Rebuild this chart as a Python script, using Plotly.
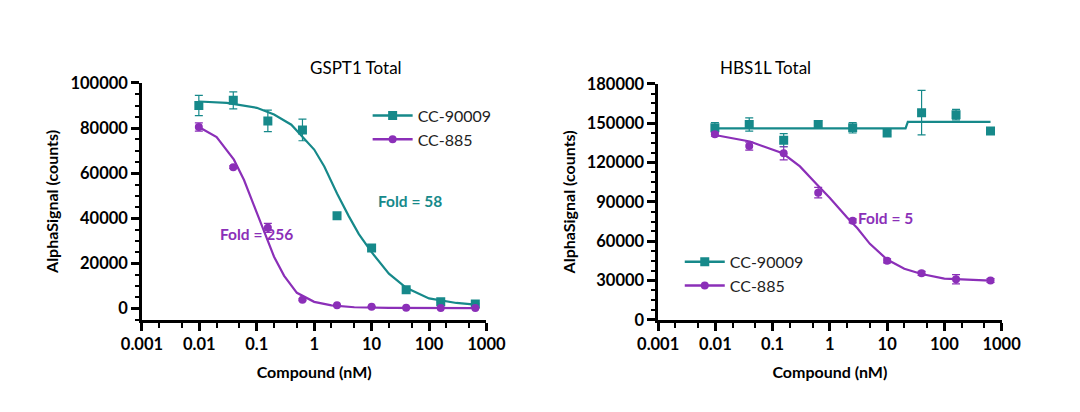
import plotly.graph_objects as go

TEAL = "#16898a"
PURPLE = "#8b2fb8"

conc = [0.0098, 0.039, 0.156, 0.625, 2.5, 10, 40, 160, 640]

# GSPT1 panel
g_cc90009 = [90000, 92300, 83200, 79200, 41200, 26900, 8400, 3000, 2000]
g_cc90009_err = [4500, 3800, 4800, 4800, 1000, 800, 600, 300, 300]
g_cc885 = [80500, 62700, 35800, 3900, 1500, 800, 400, 300, 300]
g_cc885_err = [1800, 600, 2000, 400, 300, 200, 200, 100, 100]
g_fit90009_x = [0.0098, 0.03, 0.1, 0.2, 0.4, 0.7, 1, 1.5, 2.5, 4, 6, 10, 20, 40, 100, 300, 640]
g_fit90009_y = [91800, 91200, 89000, 86000, 81500, 75000, 70500, 63000, 51000, 41000, 33000, 25000, 15500, 9200, 4500, 2500, 1800]
g_fit885_x = [0.0098, 0.02, 0.04, 0.06, 0.1, 0.15, 0.2, 0.3, 0.5, 1, 2, 5, 20, 640]
g_fit885_y = [80500, 76000, 66000, 57000, 42500, 31000, 23000, 14500, 7000, 3000, 1400, 600, 300, 200]

# HBS1L panel
h_cc90009 = [146500, 149000, 137000, 149000, 146500, 142500, 158000, 156500, 144000]
h_cc90009_err = [4000, 5000, 5000, 3000, 4000, 1500, 17000, 4000, 1500]
h_cc885 = [141500, 132500, 127000, 97000, 75500, 45000, 35500, 31000, 30000]
h_cc885_err = [1500, 3000, 5000, 4000, 1500, 1500, 1500, 3500, 1500]
h_fit90009_x = [0.0098, 21, 23, 640]
h_fit90009_y = [146000, 146000, 151000, 151000]
h_fit885_x = [0.0098, 0.04, 0.15, 0.3, 0.6, 1, 2, 3, 5, 10, 20, 40, 100, 640]
h_fit885_y = [141000, 136000, 127000, 117000, 103000, 93000, 78000, 70000, 58000, 46000, 39000, 35000, 31500, 30000]

FONT = "Lato"
fig = go.Figure()

def add(xa, ya, x, y, err, fx, fy, color, symbol, size, name, legend):
    fig.add_trace(go.Scatter(x=fx, y=fy, mode="lines", line=dict(color=color, width=2.2),
                             xaxis=xa, yaxis=ya, showlegend=False, hoverinfo="skip"))
    fig.add_trace(go.Scatter(x=x, y=y, mode="markers", name=name, legend=legend,
                             marker=dict(color=color, symbol=symbol, size=size),
                             error_y=dict(type="data", array=err, color=color, thickness=1.2, width=4),
                             xaxis=xa, yaxis=ya, showlegend=False))
    fig.add_trace(go.Scatter(x=[None], y=[None], mode="lines+markers", name=name, legend=legend,
                             line=dict(color=color, width=2.5),
                             marker=dict(color=color, symbol=symbol, size=size),
                             xaxis=xa, yaxis=ya))

add("x", "y", conc, g_cc90009, g_cc90009_err, g_fit90009_x, g_fit90009_y, TEAL, "square", 9, "CC-90009", "legend")
add("x", "y", conc, g_cc885, g_cc885_err, g_fit885_x, g_fit885_y, PURPLE, "circle", 8, "CC-885", "legend")
add("x2", "y2", conc, h_cc90009, h_cc90009_err, h_fit90009_x, h_fit90009_y, TEAL, "square", 9, "CC-90009", "legend2")
add("x2", "y2", conc, h_cc885, h_cc885_err, h_fit885_x, h_fit885_y, PURPLE, "circle", 8, "CC-885", "legend2")

tickfont = dict(family=FONT, size=16.5, color="black", weight="bold")
titlefont = dict(family=FONT, size=16, color="black", weight="bold")

def xaxis(domain, anchor):
    return dict(domain=domain, anchor=anchor, type="log", range=[-3, 3], automargin=False,
                tickvals=[0.001, 0.01, 0.1, 1, 10, 100, 1000],
                ticktext=["0.001", "0.01", "0.1", "1", "10", "100", "1000"],
                showline=True, linecolor="black", linewidth=2.5, ticks="outside",
                ticklen=8, tickwidth=2.5, tickcolor="black", showgrid=False, zeroline=False,
                minor=dict(ticks="outside", ticklen=5, tickwidth=2, tickcolor="black", showgrid=False),
                tickfont=tickfont, title=dict(text="Compound (nM)", font=titlefont, standoff=14))

def yaxis(domain, anchor, rng, dtick, minor):
    return dict(domain=domain, anchor=anchor, range=rng, dtick=dtick, tick0=0, automargin=False,
                showline=True, linecolor="black", linewidth=2.5, ticks="outside",
                ticklen=8, tickwidth=2.5, tickcolor="black", showgrid=False, zeroline=False,
                minor=dict(ticks="outside", ticklen=4, tickwidth=2, tickcolor="black", dtick=minor, showgrid=False),
                tickfont=tickfont, tickformat="d",
                title=dict(text="AlphaSignal (counts)", font=titlefont, standoff=8))

fig.update_layout(
    width=1080, height=412, margin=dict(l=0, r=0, t=0, b=0),
    paper_bgcolor="white", plot_bgcolor="white",
    xaxis=xaxis([0.124, 0.443], "y"),
    yaxis=yaxis([0.243, 0.818], "x", [-5000, 100000], 20000, 5000),
    xaxis2=xaxis([0.602, 0.920], "y2"),
    yaxis2=yaxis([0.243, 0.816], "x2", [0, 180000], 30000, 7500),
    legend=dict(x=0.333, y=0.78, xanchor="left", yanchor="top", bgcolor="rgba(0,0,0,0)",
                font=dict(family=FONT, size=16, color="#222"), tracegroupgap=4, itemwidth=40),
    legend2=dict(x=0.622, y=0.425, xanchor="left", yanchor="top", bgcolor="rgba(0,0,0,0)",
                 font=dict(family=FONT, size=16, color="#222"), itemwidth=40),
    annotations=[
        dict(text="GSPT1 Total", x=0.278, y=47, xref="paper", yref="paper", showarrow=False,
             font=dict(family=FONT, size=17, color="black")),
        dict(text="HBS1L Total", x=0.745, y=47, xref="paper", yref="paper", showarrow=False,
             font=dict(family=FONT, size=17, color="black")),
        dict(text="Fold = 58", x=0.372, y=193, xref="paper", yref="paper", showarrow=False,
             font=dict(family=FONT, size=15.5, color=TEAL, weight="bold")),
        dict(text="Fold = 256", x=0.194, y=226, xref="paper", yref="paper", showarrow=False,
             font=dict(family=FONT, size=15.5, color=PURPLE, weight="bold")),
        dict(text="Fold = 5", x=0.84, y=210, xref="paper", yref="paper", showarrow=False,
             font=dict(family=FONT, size=15.5, color=PURPLE, weight="bold")),
    ],
)
for a in fig.layout.annotations:
    a.y = 1 - a.y / 412
fig.write_html("out.html")
